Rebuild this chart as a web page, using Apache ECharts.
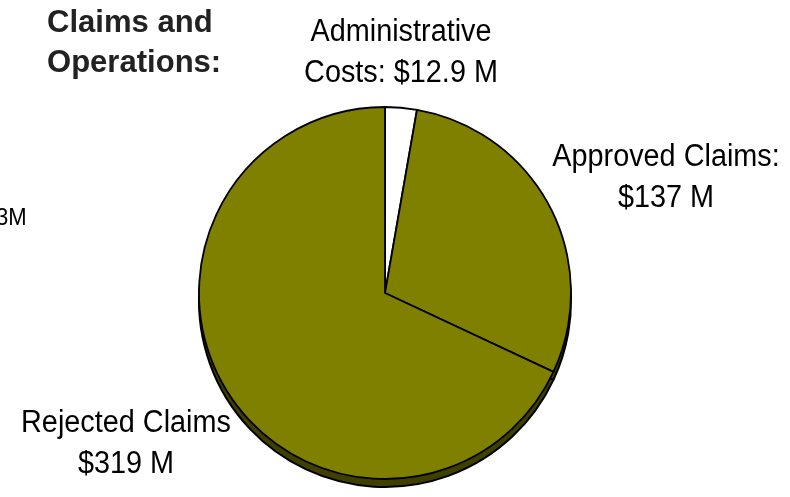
<!DOCTYPE html>
<html>
<head>
<meta charset="utf-8">
<script src="https://cdn.jsdelivr.net/npm/echarts@6/dist/echarts.min.js"></script>
<style>
  html, body { margin: 0; padding: 0; background: #ffffff; }
  #chart { width: 790px; height: 497px; }
</style>
</head>
<body>
<div id="chart"></div>
<script>
// Spending breakdown, in millions of dollars
const categories = ['Administrative Costs', 'Approved Claims', 'Rejected Claims'];
const values = [12.9, 137, 319];
const sliceLabels = [
  'Administrative\nCosts: $12.9 M',
  'Approved Claims:\n$137 M',
  'Rejected Claims\n$319 M'
];
const sliceColors = ['#ffffff', '#808000', '#808000'];
const heading = 'Claims and\nOperations:';
const sideNote = '3M';

const FONT = '"Liberation Sans", Arial, Helvetica, sans-serif';
const CX = 385, CY = 293, R = 186, DEPTH = 8;

const chart = echarts.init(document.getElementById('chart'), null, { renderer: 'canvas' });

const topData = categories.map((name, i) => ({
  name,
  value: values[i],
  itemStyle: { color: sliceColors[i] }
}));

const shadowData = categories.map((name, i) => ({ name, value: values[i] }));

// anchor points of the slice captions (centre of text block, top of first line)
const labelSpots = [
  { x: 401, y: 12 },
  { x: 666, y: 137 },
  { x: 126, y: 403 }
];

chart.setOption({
  backgroundColor: '#ffffff',
  animation: false,
  series: [
    {
      // side wall of the disc, drawn under the top face
      type: 'pie',
      silent: true,
      center: [CX, CY + DEPTH],
      radius: [0, R],
      startAngle: 90,
      clockwise: true,
      label: { show: false },
      labelLine: { show: false },
      itemStyle: { color: '#3f3f00', borderColor: '#000000', borderWidth: 2 },
      data: shadowData,
      z: 1
    },
    {
      type: 'pie',
      center: [CX, CY],
      radius: [0, R],
      startAngle: 90,
      clockwise: true,
      label: { show: false },
      labelLine: { show: false },
      itemStyle: { borderColor: '#000000', borderWidth: 1.8 },
      emphasis: { disabled: true },
      data: topData,
      z: 2
    }
  ],
  graphic: [
    {
      type: 'text',
      x: 47, y: 3,
      scaleX: 0.97,
      style: {
        text: heading,
        font: 'bold 32px ' + FONT,
        fill: '#222222',
        lineHeight: 40,
        verticalAlign: 'top'
      }
    },
    {
      type: 'text',
      x: -4, y: 206,
      scaleX: 0.92,
      style: {
        text: sideNote,
        font: '24px ' + FONT,
        fill: '#000000',
        verticalAlign: 'top'
      }
    }
  ].concat(sliceLabels.map((t, i) => ({
    type: 'text',
    x: labelSpots[i].x,
    y: labelSpots[i].y,
    scaleX: 0.93,
    style: {
      text: t,
      font: '31px ' + FONT,
      fill: '#000000',
      align: 'center',
      verticalAlign: 'top',
      lineHeight: 41
    }
  })))
});
</script>
</body>
</html>
